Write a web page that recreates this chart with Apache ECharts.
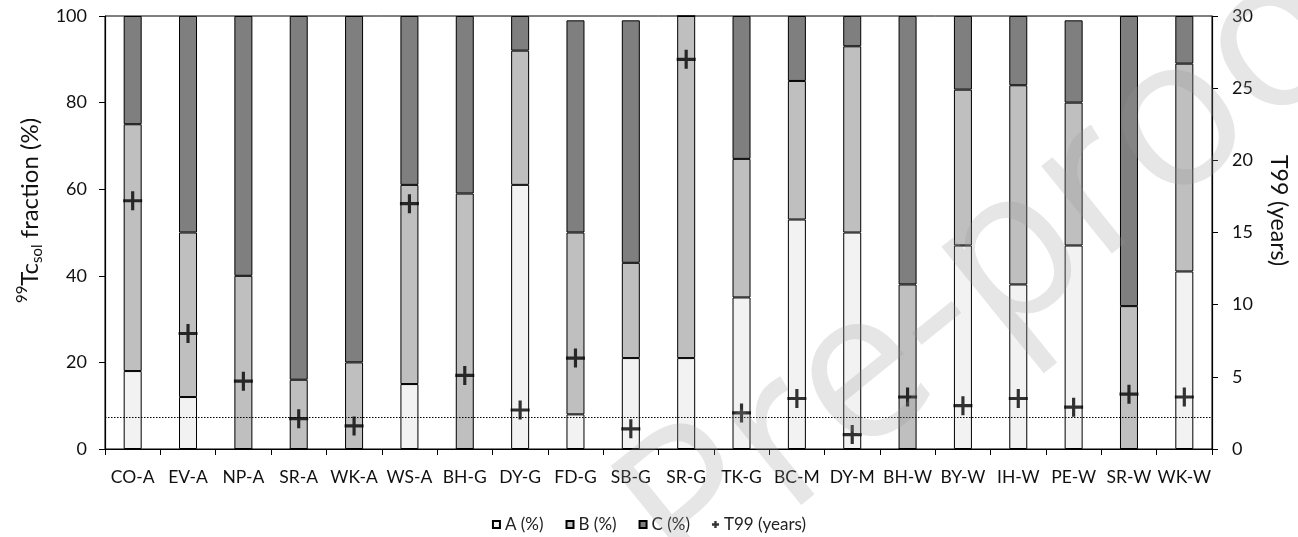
<!DOCTYPE html>
<html>
<head>
<meta charset="utf-8">
<script src="https://cdn.jsdelivr.net/npm/echarts@6/dist/echarts.min.js"></script>
<style>
  html, body { margin: 0; padding: 0; background: #fff; }
  #chart { width: 1298px; height: 537px; }
</style>
</head>
<body>
<div id="chart"></div>
<script>
// sample sites
var sites = ['CO-A', 'EV-A', 'NP-A', 'SR-A', 'WK-A', 'WS-A', 'BH-G', 'DY-G', 'FD-G', 'SB-G',
  'SR-G', 'TK-G', 'BC-M', 'DY-M', 'BH-W', 'BY-W', 'IH-W', 'PE-W', 'SR-W', 'WK-W']

// fractions (%)
var fracA = [18, 12, 0, 0, 0, 15, 0, 61, 8, 21, 21, 35, 53, 50, 0, 47, 38, 47, 0, 41]
var fracB = [57, 38, 40, 16, 20, 46, 59, 31, 42, 22, 79, 32, 32, 43, 38, 36, 46, 33, 33, 48]
var fracC = [25, 50, 60, 84, 80, 39, 41, 8, 49, 56, 0, 33, 15, 7, 62, 17, 16, 19, 67, 11]

// T99 (years)
var t99 = [17.2, 8.0, 4.7, 2.1, 1.6, 17.0, 5.1, 2.7, 6.3, 1.4, 27.0, 2.5, 3.5, 1.0, 3.6, 3.0, 3.5, 2.9, 3.8, 3.6]
var t99Threshold = 2.2

var plusPath = 'path://M7.5,0h3v18h-3z M0,7.5h18v3h-18z'
var legendPlus = 'path://M6,0h6v18h-6z M0,6h18v6h-18z'

var myChart = echarts.init(document.getElementById('chart'))

var font = 'Lato, "Open Sans", sans-serif'

function barSeries(name, data, color) {
  return {
    name: name,
    type: 'bar',
    stack: 'frac',
    barWidth: 18,
    data: data,
    itemStyle: {
      color: color,
      borderColor: '#000',
      borderWidth: 1,
    },
  }
}

var option = {
  animation: false,
  textStyle: { fontFamily: font },
  grid: {
    left: 105,
    right: 81,
    top: 16,
    bottom: 88,
    show: true,
    borderColor: '#000',
    borderWidth: 1,
  },
  legend: {
    top: 511,
    left: 'center',
    itemWidth: 7,
    itemHeight: 7,
    itemGap: 22,
    textStyle: { fontSize: 17, color: '#222', fontFamily: font },
    data: [
      { name: 'A (%)', icon: 'rect' },
      { name: 'B (%)', icon: 'rect' },
      { name: 'C (%)', icon: 'rect' },
      { name: 'T99 (years)', icon: legendPlus },
    ],
  },
  xAxis: {
    type: 'category',
    data: sites,
    axisLine: { lineStyle: { color: '#000', width: 1.2 } },
    axisTick: { show: true, length: 6, lineStyle: { color: '#000' } },
    axisLabel: { interval: 0, color: '#111', fontSize: 17.5, margin: 19 },
  },
  yAxis: [
    {
      type: 'value',
      min: 0,
      max: 100,
      interval: 20,
      name: '{sup|99}{main|Tc}{sub|sol}{main| fraction (%)}',
      nameLocation: 'middle',
      nameGap: 60,
      nameRotate: 90,
      nameTextStyle: {
        color: '#111',
        padding: [0, 0, 0, 44],
        rich: {
          main: { fontSize: 24, lineHeight: 30, color: '#111', fontFamily: font },
          sup: { fontSize: 15, lineHeight: 16, verticalAlign: 'top', color: '#111', fontFamily: font },
          sub: { fontSize: 15, lineHeight: 13, verticalAlign: 'bottom', color: '#111', fontFamily: font },
        },
      },
      splitLine: { show: false },
      axisLine: { show: true, lineStyle: { color: '#000', width: 1.2 } },
      axisTick: { show: true, length: 6, lineStyle: { color: '#000' } },
      axisLabel: { color: '#111', fontSize: 18, margin: 18 },
    },
    {
      type: 'value',
      min: 0,
      max: 30,
      interval: 5,
      position: 'right',
      name: 'T99 (years)',
      nameLocation: 'middle',
      nameGap: 55,
      nameRotate: -90,
      nameTextStyle: { color: '#111', fontSize: 23, padding: [0, 44, 0, 0] },
      splitLine: { show: false },
      axisLine: { show: true, lineStyle: { color: '#000', width: 1.2 } },
      axisTick: { show: true, length: 6, lineStyle: { color: '#000' } },
      axisLabel: { color: '#111', fontSize: 18, margin: 20 },
    },
  ],
  series: [
    barSeries('A (%)', fracA, '#f2f2f2'),
    barSeries('B (%)', fracB, '#bfbfbf'),
    barSeries('C (%)', fracC, '#7f7f7f'),
    {
      name: 'T99 (years)',
      type: 'scatter',
      yAxisIndex: 1,
      symbol: plusPath,
      symbolSize: 19,
      z: 5,
      itemStyle: { color: '#000' },
      data: t99,
      markLine: {
        silent: true,
        symbol: 'none',
        label: { show: false },
        lineStyle: { color: '#000', type: [1.5, 1.5], width: 1 },
        data: [{ yAxis: t99Threshold }],
      },
    },
  ],
  graphic: [
    {
      type: 'text',
      x: 1015,
      y: 255,
      rotation: 0.68,
      z: 100,
      silent: true,
      style: {
        text: 'Pre-proof',
        fontSize: 210,
        fontFamily: '"Open Sans", sans-serif',
        fill: 'rgba(150,150,150,0.24)',
        align: 'center',
        verticalAlign: 'middle',
      },
    },
  ],
}

myChart.setOption(option)
</script>
</body>
</html>
